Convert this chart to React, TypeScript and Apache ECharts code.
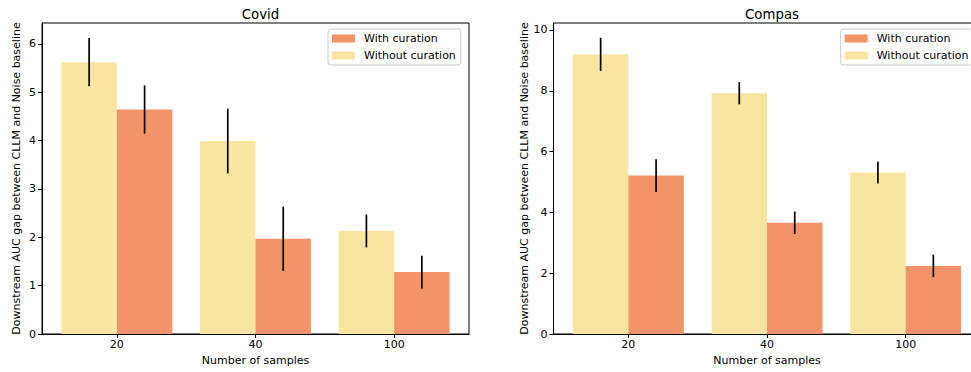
import React, { useEffect, useRef } from "react";
import * as echarts from "echarts";

const categories = ["20", "40", "100"];

const covidWith = [4.64, 1.97, 1.28];
const covidWithErr = [0.5, 0.665, 0.34];
const covidWithout = [5.62, 3.99, 2.13];
const covidWithoutErr = [0.5, 0.67, 0.34];

const compasWith = [5.21, 3.66, 2.24];
const compasWithErr = [0.54, 0.37, 0.37];
const compasWithout = [9.2, 7.92, 5.31];
const compasWithoutErr = [0.545, 0.365, 0.36];

const covidYTicks = [0, 1, 2, 3, 4, 5, 6];
const compasYTicks = [0, 2, 4, 6, 8, 10];
const xTicks = [0, 1, 2];

const titles = ["Covid", "Compas"];
const seriesNames = ["With curation", "Without curation"];
const yName = "Downstream AUC gap between CLLM and Noise baseline";
const xName = "Number of samples";

const ORANGE = "#f39468";
const YELLOW = "#f8e6a0";
const FONT = "DejaVu Sans";
const BAR_W = 0.4;

export default function App() {
  const ref = useRef<HTMLDivElement>(null);

  useEffect(() => {
    if (!ref.current) return;
    const chart = echarts.init(ref.current, undefined, { renderer: "svg" });

    const makeSeries = (
      name: string,
      vals: number[],
      errs: number[],
      start: number,
      color: string,
      gi: number
    ) => ({
      type: "custom",
      name,
      xAxisIndex: gi,
      yAxisIndex: gi,
      itemStyle: { color },
      encode: { x: 0, y: 1 },
      data: categories.map((_, i) => [i, vals[i], errs[i]]),
      renderItem: (params: any, api: any) => {
        const i = api.value(0);
        const v = api.value(1);
        const e = api.value(2);
        const p0 = api.coord([i + start, v]);
        const p1 = api.coord([i + start + BAR_W, 0]);
        const et = api.coord([i + start + BAR_W / 2, v + e]);
        const eb = api.coord([i + start + BAR_W / 2, v - e]);
        return {
          type: "group",
          children: [
            {
              type: "rect",
              shape: { x: p0[0], y: p0[1], width: p1[0] - p0[0], height: p1[1] - p0[1] },
              style: { fill: color },
            },
            {
              type: "line",
              shape: { x1: et[0], y1: et[1], x2: eb[0], y2: eb[1] },
              style: { stroke: "#000", lineWidth: 1.7 },
            },
          ],
        };
      },
    });

    const grids = [
      { left: 42, top: 23, width: 427, height: 311 },
      { left: 553.5, top: 23, width: 427, height: 311 },
    ];

    const textStyle = { fontFamily: FONT, fontSize: 11, color: "#000" };

    const xAxis = [0, 1].map((gi) => ({
      type: "value",
      gridIndex: gi,
      min: -0.54,
      max: 2.54,
      name: xName,
      nameLocation: "middle",
      nameGap: 21,
      nameTextStyle: textStyle,
      axisLine: { show: true, onZero: false, lineStyle: { color: "#000", width: 1 } },
      axisTick: { show: true, length: 4, lineStyle: { color: "#000" }, customValues: xTicks },
      axisLabel: {
        ...textStyle,
        margin: 5,
        customValues: xTicks,
        formatter: (v: number) => categories[Math.round(v)],
      },
      splitLine: { show: false },
    }));

    const yTicksList = [covidYTicks, compasYTicks];
    const yMax = [6.43, 10.23];
    const yAxis = [0, 1].map((gi) => ({
      type: "value",
      gridIndex: gi,
      min: 0,
      max: yMax[gi],
      name: yName,
      nameLocation: "middle",
      nameGap: 20,
      nameTextStyle: textStyle,
      axisLine: { show: true, onZero: false, lineStyle: { color: "#000", width: 1 } },
      axisTick: { show: true, length: 4, lineStyle: { color: "#000" }, customValues: yTicksList[gi] },
      axisLabel: { ...textStyle, margin: 6, customValues: yTicksList[gi] },
      splitLine: { show: false },
    }));

    const legendLefts = [328, 840.7];
    const legend = legendLefts.map((l) => ({
      left: l,
      top: 29,
      orient: "vertical",
      itemWidth: 23,
      itemHeight: 8,
      itemGap: 4,
      padding: [3, 5, 3, 4],
      backgroundColor: "rgba(255,255,255,0.8)",
      borderColor: "#cccccc",
      borderWidth: 1,
      borderRadius: 3,
      icon: "rect",
      textStyle: { ...textStyle, lineHeight: 13, padding: [0, 0, 0, 4] },
      data: seriesNames,
    }));

    chart.setOption({
      animation: false,
      backgroundColor: "#fff",
      title: titles.map((t, gi) => ({
        text: t,
        left: grids[gi].left + grids[gi].width / 2,
        top: 3,
        textAlign: "center",
        textStyle: { fontFamily: FONT, fontSize: 13.3, fontWeight: "normal", color: "#000" },
      })),
      grid: grids.map((g) => ({ ...g, show: true, borderColor: "#000", borderWidth: 1, backgroundColor: "transparent" })),
      legend,
      xAxis,
      yAxis,
      series: [
        makeSeries(seriesNames[1], covidWithout, covidWithoutErr, -BAR_W, YELLOW, 0),
        makeSeries(seriesNames[0], covidWith, covidWithErr, 0, ORANGE, 0),
        makeSeries(seriesNames[1], compasWithout, compasWithoutErr, -BAR_W, YELLOW, 1),
        makeSeries(seriesNames[0], compasWith, compasWithErr, 0, ORANGE, 1),
      ],
    });

    return () => chart.dispose();
  }, []);

  return (
    <div
      style={{ position: "absolute", left: 0, top: 0, width: 971, height: 372, overflow: "hidden", background: "#fff" }}
    >
      <div ref={ref} style={{ width: 1000, height: 372 }} />
    </div>
  );
}
